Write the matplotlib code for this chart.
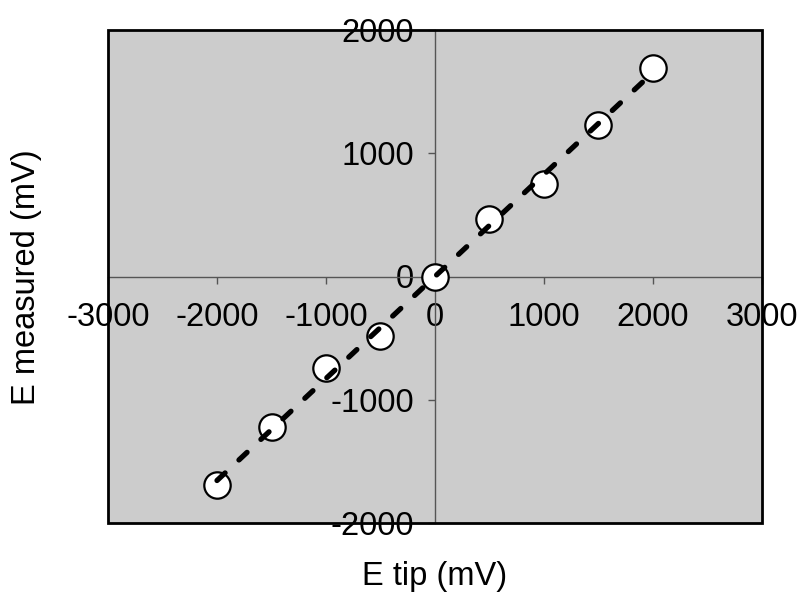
import numpy as np
import matplotlib
matplotlib.use("Agg")
import matplotlib.pyplot as plt
from matplotlib.patches import Rectangle

e_tip = [-2000, -1500, -1000, -500, 0, 500, 1000, 1500, 2000]
e_measured = [-1693, -1222, -742, -483, 0, 469, 754, 1233, 1689]
x_ticks = [-3000, -2000, -1000, 0, 1000, 2000, 3000]
y_ticks = [-2000, -1000, 0, 1000, 2000]

plt.rcParams['font.family'] = ['Liberation Sans', 'DejaVu Sans']
FS = 23.5

fig = plt.figure(figsize=(8.03, 5.92), dpi=100)
ax = fig.add_axes([108/803, 1 - 523/592, (762-108)/803, (523-30)/592])
ax.set_facecolor('#cccccc')
ax.set_xlim(-3000, 3000)
ax.set_ylim(-2000, 2000)

for s in ['top', 'right']:
    ax.spines[s].set_visible(False)
ax.spines['left'].set_position(('data', 0))
ax.spines['bottom'].set_position(('data', 0))
for s in ['left', 'bottom']:
    ax.spines[s].set_color('#555555')
    ax.spines[s].set_linewidth(1.0)

ax.set_xticks(x_ticks)
ax.set_xticklabels([str(v) for v in x_ticks])
ax.set_yticks(y_ticks)
ax.set_yticklabels([str(v) for v in y_ticks])
ax.tick_params(axis='both', direction='out', length=5, width=1, color='#555555',
               labelsize=FS)
ax.tick_params(axis='x', pad=13)
ax.tick_params(axis='y', pad=10)

# fitted trend line
coef = np.polyfit(e_tip, e_measured, 1)
xl = np.array([min(e_tip), max(e_tip)])
ax.plot(e_tip, e_measured, 'o', ms=19, mfc='white', mec='black', mew=1.6, zorder=3)
ax.plot(xl, np.polyval(coef, xl), color='black', lw=3.8, dashes=(2.1, 3.6),
        dash_capstyle='round', zorder=4)

frame = Rectangle((0, 0), 1, 1, transform=ax.transAxes, fill=False, ec='black',
                  lw=2, clip_on=False, zorder=5)
ax.add_patch(frame)

fig.text(435/803, 1 - 577/592, 'E tip (mV)', ha='center', va='center', fontsize=FS)
fig.text(27/803, 1 - 277/592, 'E measured (mV)', ha='center', va='center',
         rotation=90, fontsize=FS)

fig.savefig('out.png', dpi=100)
